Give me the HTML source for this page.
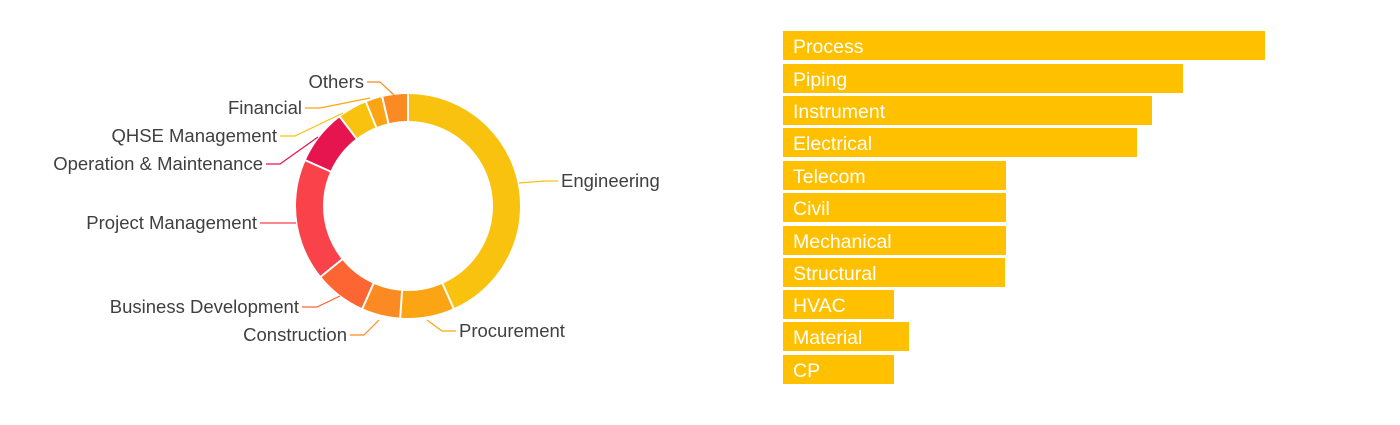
<!DOCTYPE html>
<html><head><meta charset="utf-8"><style>
body{margin:0;background:#fff;width:1400px;height:425px;overflow:hidden;font-family:"Liberation Sans",sans-serif}
.bar{position:absolute;left:783px;height:29px;background:#FFC000;color:#fff;font-size:19.5px;line-height:33px;padding-left:10px;box-sizing:border-box}
</style></head><body>
<svg width="1400" height="425" style="position:absolute;left:0;top:0">
<g transform="rotate(-90 408 206)" fill="none" stroke-width="27">
<circle cx="408" cy="206" r="98.5" stroke="#F9C20F" stroke-dasharray="268.2 1000" stroke-dashoffset="0"/>
<circle cx="408" cy="206" r="98.5" stroke="#FBA514" stroke-dasharray="48.1 1000" stroke-dashoffset="-268.2"/>
<circle cx="408" cy="206" r="98.5" stroke="#FC8A22" stroke-dasharray="34.4 1000" stroke-dashoffset="-316.3"/>
<circle cx="408" cy="206" r="98.5" stroke="#FD6633" stroke-dasharray="46.4 1000" stroke-dashoffset="-350.7"/>
<circle cx="408" cy="206" r="98.5" stroke="#F9424A" stroke-dasharray="108.3 1000" stroke-dashoffset="-397.2"/>
<circle cx="408" cy="206" r="98.5" stroke="#E6144F" stroke-dasharray="49.2 1000" stroke-dashoffset="-505.5"/>
<circle cx="408" cy="206" r="98.5" stroke="#F9C20F" stroke-dasharray="26.5 1000" stroke-dashoffset="-554.7"/>
<circle cx="408" cy="206" r="98.5" stroke="#FBA514" stroke-dasharray="15.0 1000" stroke-dashoffset="-581.1"/>
<circle cx="408" cy="206" r="98.5" stroke="#FC8A22" stroke-dasharray="22.2 1000" stroke-dashoffset="-596.6"/>
</g>
<g stroke="#fff" stroke-width="2">
<line x1="408" y1="91" x2="408" y2="123"/>
<line x1="408" y1="91" x2="408" y2="123" transform="rotate(156 408 206)"/>
<line x1="408" y1="91" x2="408" y2="123" transform="rotate(184 408 206)"/>
<line x1="408" y1="91" x2="408" y2="123" transform="rotate(204 408 206)"/>
<line x1="408" y1="91" x2="408" y2="123" transform="rotate(231 408 206)"/>
<line x1="408" y1="91" x2="408" y2="123" transform="rotate(294 408 206)"/>
<line x1="408" y1="91" x2="408" y2="123" transform="rotate(322.6 408 206)"/>
<line x1="408" y1="91" x2="408" y2="123" transform="rotate(338 408 206)"/>
<line x1="408" y1="91" x2="408" y2="123" transform="rotate(346.7 408 206)"/>
</g>
<g fill="none" stroke-width="1.2">
<polyline points="367,82 380,82 394,95" stroke="#FC8A22"/>
<polyline points="305,108 320,108 370,98" stroke="#FBA514"/>
<polyline points="280,136 295,136 343,113" stroke="#F9C20F"/>
<polyline points="266,164 280,164 318,137" stroke="#E6144F"/>
<polyline points="260,223 296,223" stroke="#F9424A"/>
<polyline points="302,307 317,307 340,296" stroke="#FD6633"/>
<polyline points="350,335 364,335 379,320" stroke="#FC8A22"/>
<polyline points="519,183 545,181 558,181" stroke="#F9C20F"/>
<polyline points="427,320 442,331 456,331" stroke="#FBA514"/>
</g>
<g font-family="Liberation Sans, sans-serif" font-size="18.5" fill="#404040">
<text x="364" y="88" text-anchor="end">Others</text>
<text x="302" y="114" text-anchor="end">Financial</text>
<text x="277" y="142" text-anchor="end">QHSE Management</text>
<text x="263" y="170" text-anchor="end">Operation &amp; Maintenance</text>
<text x="257" y="229" text-anchor="end">Project Management</text>
<text x="299" y="313" text-anchor="end">Business Development</text>
<text x="347" y="341" text-anchor="end">Construction</text>
<text x="561" y="187">Engineering</text>
<text x="459" y="337">Procurement</text>
</g>
</svg>
<div class="bar" style="top:31px;width:482px">Process</div>
<div class="bar" style="top:64px;width:400px">Piping</div>
<div class="bar" style="top:96px;width:369px">Instrument</div>
<div class="bar" style="top:128px;width:354px">Electrical</div>
<div class="bar" style="top:161px;width:223px">Telecom</div>
<div class="bar" style="top:193px;width:223px">Civil</div>
<div class="bar" style="top:226px;width:223px">Mechanical</div>
<div class="bar" style="top:258px;width:222px">Structural</div>
<div class="bar" style="top:290px;width:111px">HVAC</div>
<div class="bar" style="top:322px;width:126px">Material</div>
<div class="bar" style="top:355px;width:111px">CP</div>
</body></html>
